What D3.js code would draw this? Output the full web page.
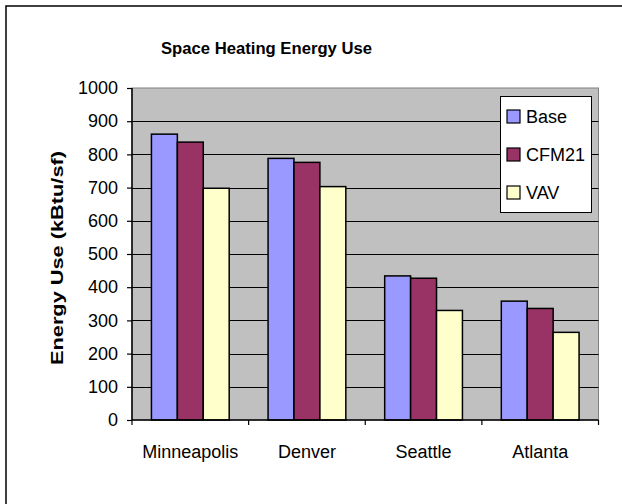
<!DOCTYPE html>
<html><head><meta charset="utf-8">
<script src="https://cdn.jsdelivr.net/npm/d3@7/dist/d3.min.js"></script>
<style>body{margin:0;background:#fff}svg{display:block}text{font-family:"Liberation Sans",Arial,sans-serif}</style>
</head><body>
<script>
const categories = ["Minneapolis", "Denver", "Seattle", "Atlanta"];
const seriesNames = ["Base", "CFM21", "VAV"];
const baseValues = [861, 788, 434, 358];
const cfm21Values = [837, 776, 427, 336];
const vavValues = [698, 703, 330, 264];
const yTicks = [0, 100, 200, 300, 400, 500, 600, 700, 800, 900, 1000];
const colors = ["#9999FF", "#993366", "#FFFFCC"];
const titleText = "Space Heating Energy Use";
const yLabelText = "Energy Use (kBtu/sf)";

const series = [baseValues, cfm21Values, vavValues];
const W = 622, H = 504;
const svg = d3.select("body").append("svg").attr("width", W).attr("height", H);

// outer frame (only top and left visible)
svg.append("rect").attr("x", 6).attr("y", 6).attr("width", 700).attr("height", 600)
  .attr("fill", "#fff").attr("stroke", "#000").attr("stroke-width", 1.5);

const L = 132, R = 598.5, T = 88, B = 420;
const x0 = d3.scaleBand().domain(categories).range([L, R]).paddingInner(0).paddingOuter(0);
const bw = x0.bandwidth();
const x1 = d3.scaleBand().domain(seriesNames).range([0, bw]).paddingInner(0).paddingOuter(0.75);
const y = d3.scaleLinear().domain([0, 1000]).range([B, T]);

svg.append("rect").attr("x", L).attr("y", T).attr("width", R - L).attr("height", B - T)
  .attr("fill", "#C0C0C0").attr("stroke", "#808080").attr("stroke-width", 1);

// gridlines
svg.append("g").selectAll("line").data(yTicks.filter(v => v > 0 && v < 1000)).join("line")
  .attr("x1", L).attr("x2", R).attr("y1", d => Math.round(y(d)) + 0.5).attr("y2", d => Math.round(y(d)) + 0.5)
  .attr("stroke", "#000").attr("stroke-width", 1);

// bars
const rows = categories.map((c, i) => ({c, vals: seriesNames.map((s, j) => ({s, j, v: series[j][i]}))}));
svg.append("g").selectAll("g").data(rows).join("g")
  .attr("transform", d => `translate(${x0(d.c)},0)`)
  .selectAll("rect").data(d => d.vals).join("rect")
  .attr("x", d => x1(d.s)).attr("width", x1.bandwidth())
  .attr("y", d => y(d.v)).attr("height", d => y(0) - y(d.v))
  .attr("fill", d => colors[d.j]).attr("stroke", "#000").attr("stroke-width", 1.5);

// y axis
const yAxis = d3.axisLeft(y).tickValues(yTicks).tickFormat(d3.format("d")).tickSize(5).tickPadding(9);
const gy = svg.append("g").attr("transform", `translate(${L},0)`).call(yAxis);
gy.select(".domain").attr("stroke", "#000").attr("stroke-width", 1.5).attr("d", `M0,${T}V${B}`);
gy.selectAll(".tick line").attr("stroke", "#000").attr("stroke-width", 1.2);
gy.selectAll(".tick text").attr("font-size", 18).attr("fill", "#000")
  .style("font-family", '"Liberation Sans",Arial,sans-serif');

// x axis
const gx = svg.append("g").attr("transform", `translate(0,${B})`);
gx.append("line").attr("x1", L).attr("x2", R).attr("y1", 0).attr("y2", 0).attr("stroke", "#000").attr("stroke-width", 1.5);
const bounds = categories.map(c => x0(c)).concat([R]);
gx.selectAll("line.tk").data(bounds).join("line").attr("class", "tk")
  .attr("x1", d => d).attr("x2", d => d).attr("y1", 0).attr("y2", 5).attr("stroke", "#000").attr("stroke-width", 1.2);
gx.selectAll("text").data(categories).join("text")
  .attr("x", d => x0(d) + bw / 2).attr("y", 38).attr("text-anchor", "middle")
  .attr("font-size", 18).attr("fill", "#000").text(d => d);

// title
svg.append("text").attr("x", 266.5).attr("y", 54).attr("text-anchor", "middle")
  .attr("font-size", 16.5).attr("font-weight", "bold").attr("textLength", 211).attr("lengthAdjust", "spacingAndGlyphs")
  .text(titleText);

// y label
svg.append("text").attr("transform", "translate(63,258) rotate(-90)").attr("text-anchor", "middle")
  .attr("font-size", 17).attr("font-weight", "bold").attr("textLength", 214).attr("lengthAdjust", "spacingAndGlyphs")
  .text(yLabelText);

// legend
const lg = svg.append("g");
lg.append("rect").attr("x", 500.5).attr("y", 96.5).attr("width", 91).attr("height", 116)
  .attr("fill", "#fff").attr("stroke", "#000").attr("stroke-width", 1);
const items = lg.selectAll("g").data(seriesNames).join("g")
  .attr("transform", (d, i) => `translate(507,${110 + i * 38})`);
items.append("rect").attr("x", 0).attr("y", 0).attr("width", 13).attr("height", 13)
  .attr("fill", (d, i) => colors[i]).attr("stroke", "#000").attr("stroke-width", 1.2);
items.append("text").attr("x", 19).attr("y", 12.5).attr("font-size", 18).attr("fill", "#000").text(d => d);
</script>
</body></html>
